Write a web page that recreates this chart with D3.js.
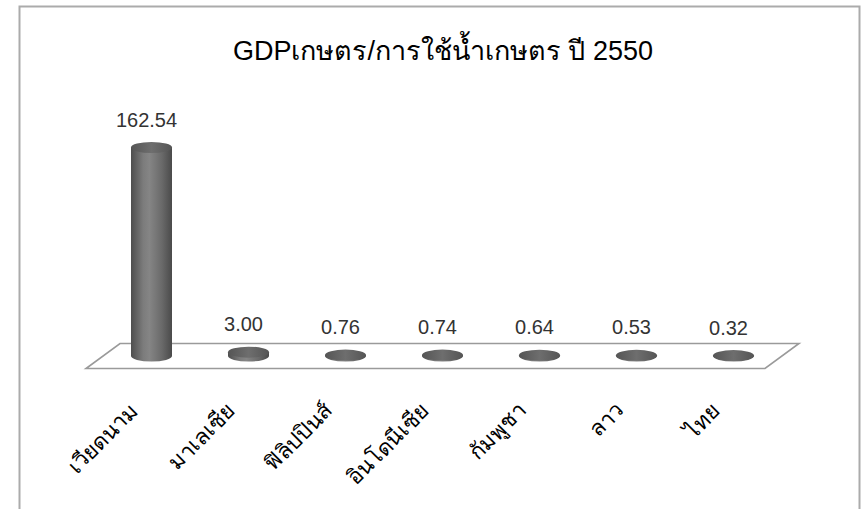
<!DOCTYPE html>
<html>
<head>
<meta charset="utf-8">
<script src="https://cdn.jsdelivr.net/npm/d3@7"></script>
<style>
  html, body { margin: 0; padding: 0; background: #fff; }
  svg { display: block; }
  text { font-family: "Liberation Sans", Arial, sans-serif; }
</style>
</head>
<body>
<svg id="chart" width="863" height="509"></svg>
<script>
// Agricultural GDP per unit of agricultural water use, 2550 B.E.
const categories = ["เวียดนาม", "มาเลเซีย", "ฟิลิปปินส์", "อินโดนีเซีย", "กัมพูชา", "ลาว", "ไทย"];
const values = [162.54, 3.00, 0.76, 0.74, 0.64, 0.53, 0.32];
const valueLabels = ["162.54", "3.00", "0.76", "0.74", "0.64", "0.53", "0.32"];
const chartTitle = "GDPเกษตร/การใช้น้ำเกษตร ปี 2550";

const svg = d3.select("#chart");
const W = 863, H = 509;

// outer frame (open at the bottom edge)
svg.append("path")
  .attr("d", `M19.5,${H + 2} L19.5,6.5 L859.5,6.5 L859.5,${H + 2}`)
  .attr("fill", "none")
  .attr("stroke", "#ababab")
  .attr("stroke-width", 2);

svg.append("text")
  .attr("x", 443)
  .attr("y", 60)
  .attr("text-anchor", "middle")
  .attr("font-size", 27)
  .attr("fill", "#000")
  .text(chartTitle);

// band scale runs along the middle depth of the floor
const x = d3.scaleBand().domain(categories).range([103, 782]).paddingInner(0).paddingOuter(0);
const baseY = 356;
const y = d3.scaleLinear().domain([0, d3.max(values)]).range([baseY, 147.5]);

// floor depth offsets
const depthX = 17, depthY = 12.5;
const x0 = x.range()[0], x1 = x.range()[1];
svg.append("path")
  .attr("d", `M${x0 + depthX},${baseY - depthY} L${x1 + depthX},${baseY - depthY} L${x1 - depthX},${baseY + depthY} L${x0 - depthX},${baseY + depthY} Z`)
  .attr("fill", "#fff")
  .attr("stroke", "#9a9a9a")
  .attr("stroke-width", 1.6);

// cylinder shading
const defs = svg.append("defs");
const sideGrad = defs.append("linearGradient").attr("id", "cylSide").attr("x1", "0").attr("x2", "1").attr("y1", "0").attr("y2", "0");
sideGrad.append("stop").attr("offset", "0%").attr("stop-color", "#4e4e4e");
sideGrad.append("stop").attr("offset", "30%").attr("stop-color", "#7c7c7c");
sideGrad.append("stop").attr("offset", "45%").attr("stop-color", "#858585");
sideGrad.append("stop").attr("offset", "75%").attr("stop-color", "#6a6a6a");
sideGrad.append("stop").attr("offset", "100%").attr("stop-color", "#4a4a4a");
const capGrad = defs.append("linearGradient").attr("id", "cylTop").attr("x1", "0").attr("x2", "1").attr("y1", "0").attr("y2", "0");
capGrad.append("stop").attr("offset", "0%").attr("stop-color", "#555");
capGrad.append("stop").attr("offset", "50%").attr("stop-color", "#6e6e6e");
capGrad.append("stop").attr("offset", "100%").attr("stop-color", "#555");

const rx = 20.5, ry = 5.5;
const bars = svg.append("g").selectAll("g").data(values).join("g");
bars.each(function (v, i) {
  const g = d3.select(this);
  const cx = x(categories[i]) + x.bandwidth() / 2;
  const yt = y(v);
  // body: side rectangle plus the front half of the base ellipse
  g.append("path")
    .attr("d", `M${cx - rx},${yt} L${cx - rx},${baseY} A${rx},${ry} 0 0 0 ${cx + rx},${baseY} L${cx + rx},${yt} Z`)
    .attr("fill", "url(#cylSide)");
  g.append("ellipse")
    .attr("cx", cx).attr("cy", yt).attr("rx", rx).attr("ry", ry)
    .attr("fill", "url(#cylTop)");
});

// value labels above each column
svg.append("g").selectAll("text").data(values).join("text")
  .attr("x", (d, i) => x(categories[i]) + x.bandwidth() / 2 - 5)
  .attr("y", d => y(d) - 21)
  .attr("text-anchor", "middle")
  .attr("font-size", 20)
  .attr("fill", "#333")
  .text((d, i) => valueLabels[i]);

// category labels, rotated
svg.append("g").selectAll("text").data(categories).join("text")
  .attr("transform", d => `translate(${x(d) + x.bandwidth() / 2 - 12},412) rotate(-45)`)
  .attr("text-anchor", "end")
  .attr("font-size", 22)
  .attr("fill", "#000")
  .text(d => d);
</script>
</body>
</html>
